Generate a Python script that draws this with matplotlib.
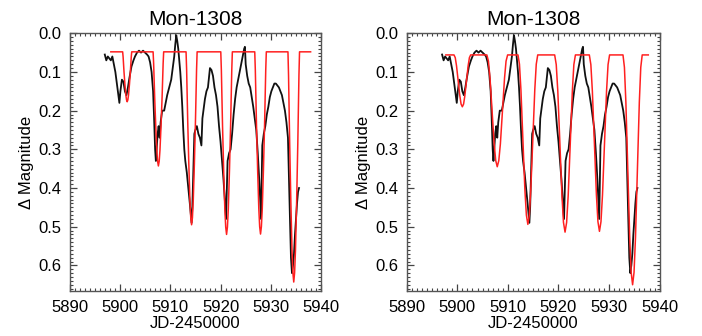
import matplotlib
matplotlib.use("Agg")
import matplotlib.pyplot as plt
from matplotlib.ticker import MultipleLocator

plt.rcParams['font.family'] = ['Liberation Sans', 'DejaVu Sans']

title = "Mon-1308"
xlabel = "JD-2450000"
ylabel = "\u0394 Magnitude"
xticks = [5890, 5900, 5910, 5920, 5930, 5940]
yticks = [0.0, 0.1, 0.2, 0.3, 0.4, 0.5, 0.6]

# observed light curve (traced band centre)
obs_jd = [5897.0, 5897.3, 5897.6, 5897.9, 5898.2, 5898.5, 5898.8, 5899.1, 5899.4, 5899.7,
          5899.9, 5900.1, 5900.4, 5900.7, 5901.0, 5901.3, 5901.6, 5901.9, 5902.3, 5902.7,
          5903.0, 5903.4, 5903.8, 5904.2, 5904.6, 5905.0, 5905.4, 5905.7, 5906.0, 5906.3,
          5906.6, 5906.8, 5907.0, 5907.15, 5907.3, 5907.5, 5907.7, 5907.9, 5908.1, 5908.4,
          5908.8, 5909.1, 5909.4, 5909.8, 5910.2, 5910.5, 5910.8, 5911.0, 5911.2, 5911.4,
          5911.6, 5911.8, 5912.0, 5912.2, 5912.4, 5912.6, 5912.8, 5913.0, 5913.3, 5913.6,
          5913.9, 5914.1, 5914.25, 5914.4, 5914.6, 5914.8, 5915.0, 5915.3, 5915.6, 5915.9,
          5916.2, 5916.4, 5916.6, 5916.9, 5917.2, 5917.5, 5917.9, 5918.2, 5918.5, 5918.8,
          5919.1, 5919.4, 5919.7, 5920.0, 5920.3, 5920.6, 5920.9, 5921.1, 5921.4, 5921.7,
          5922.0, 5922.3, 5922.6, 5922.9, 5923.2, 5923.5, 5923.8, 5924.1, 5924.4, 5924.7,
          5924.85, 5925.0, 5925.3, 5925.6, 5925.9, 5926.2, 5926.5, 5926.8, 5927.1, 5927.4,
          5927.7, 5927.9, 5928.05, 5928.3, 5928.6, 5928.9, 5929.2, 5929.5, 5929.8, 5930.1,
          5930.4, 5930.7, 5931.0, 5931.3, 5931.6, 5931.9, 5932.2, 5932.5, 5932.8, 5933.1,
          5933.4, 5933.6, 5933.8, 5934.0, 5934.2, 5934.4, 5934.6, 5934.8, 5935.0, 5935.2,
          5935.4, 5935.6]
obs_mag = [0.055, 0.07, 0.06, 0.065, 0.07, 0.06, 0.08, 0.10, 0.13, 0.16,
           0.18, 0.15, 0.12, 0.125, 0.15, 0.16, 0.14, 0.115, 0.086, 0.07,
           0.06, 0.05, 0.045, 0.05, 0.045, 0.05, 0.055, 0.06, 0.075, 0.10,
           0.15, 0.22, 0.30, 0.33, 0.30, 0.26, 0.24, 0.27, 0.23, 0.20,
           0.20, 0.18, 0.16, 0.14, 0.12, 0.09, 0.06, 0.03, 0.005, 0.02,
           0.04, 0.07, 0.10, 0.14, 0.19, 0.25, 0.30, 0.33, 0.36, 0.40,
           0.44, 0.47, 0.49, 0.45, 0.35, 0.26, 0.25, 0.24, 0.26, 0.27,
           0.29, 0.22, 0.20, 0.17, 0.15, 0.14, 0.09, 0.095, 0.11, 0.14,
           0.16, 0.19, 0.24, 0.28, 0.33, 0.38, 0.44, 0.48, 0.33, 0.31,
           0.30, 0.26, 0.21, 0.17, 0.14, 0.12, 0.10, 0.08, 0.06, 0.04,
           0.035, 0.08, 0.11, 0.13, 0.14, 0.165, 0.19, 0.22, 0.25, 0.31,
           0.38, 0.44, 0.48, 0.29, 0.26, 0.24, 0.21, 0.19, 0.165, 0.15,
           0.14, 0.13, 0.13, 0.135, 0.14, 0.15, 0.16, 0.18, 0.20, 0.23,
           0.27, 0.38, 0.48, 0.58, 0.62, 0.60, 0.57, 0.52, 0.48, 0.44,
           0.41, 0.40]

# left-panel model (narrow eclipses)
modelA_jd = [5898.2,
             5900.55, 5900.64, 5900.82, 5901.00, 5901.18, 5901.315, 5901.45,
             5901.585, 5901.72, 5901.90, 5902.08, 5902.26, 5902.35,
             5906.6, 5906.705, 5906.915, 5907.125, 5907.335, 5907.49, 5907.65,
             5907.81, 5907.965, 5908.175, 5908.385, 5908.595, 5908.7,
             5913.15, 5913.26, 5913.48, 5913.70, 5913.92, 5914.085, 5914.25,
             5914.415, 5914.58, 5914.80, 5915.02, 5915.24, 5915.35,
             5920.05, 5920.165, 5920.395, 5920.625, 5920.855, 5921.03, 5921.2,
             5921.37, 5921.545, 5921.775, 5922.005, 5922.235, 5922.35,
             5926.8, 5926.915, 5927.145, 5927.375, 5927.605, 5927.78, 5927.95,
             5928.12, 5928.295, 5928.525, 5928.755, 5928.985, 5929.1,
             5933.4, 5933.515, 5933.745, 5933.975, 5934.205, 5934.38, 5934.55,
             5934.72, 5934.895, 5935.125, 5935.355, 5935.585, 5935.7,
             5937.9]
modelA_mag = [0.048,
              0.048, 0.061, 0.100, 0.132, 0.159, 0.172, 0.177,
              0.172, 0.159, 0.132, 0.100, 0.061, 0.048,
              0.048, 0.078, 0.166, 0.240, 0.302, 0.331, 0.343,
              0.331, 0.302, 0.240, 0.166, 0.078, 0.048,
              0.048, 0.093, 0.227, 0.339, 0.432, 0.477, 0.495,
              0.477, 0.432, 0.339, 0.227, 0.093, 0.048,
              0.048, 0.095, 0.237, 0.355, 0.454, 0.501, 0.520,
              0.501, 0.454, 0.355, 0.237, 0.095, 0.048,
              0.048, 0.095, 0.236, 0.354, 0.453, 0.500, 0.519,
              0.500, 0.453, 0.354, 0.236, 0.095, 0.048,
              0.048, 0.108, 0.286, 0.435, 0.560, 0.619, 0.643,
              0.619, 0.560, 0.435, 0.286, 0.108, 0.048,
              0.048]

# right-panel model (wider eclipses)
modelB_jd = [5897.75,
             5899.35, 5899.60, 5899.85, 5900.18, 5900.51, 5900.75, 5901.0,
             5901.25, 5901.49, 5901.82, 5902.15, 5902.40, 5902.65,
             5905.85, 5906.16, 5906.47, 5906.88, 5907.29, 5907.60, 5907.9,
             5908.21, 5908.52, 5908.93, 5909.34, 5909.64, 5909.95,
             5912.0, 5912.29, 5912.58, 5912.97, 5913.36, 5913.66, 5913.95,
             5914.24, 5914.53, 5914.93, 5915.32, 5915.61, 5915.9,
             5919.25, 5919.56, 5919.87, 5920.28, 5920.69, 5920.99, 5921.3,
             5921.61, 5921.92, 5922.33, 5922.74, 5923.04, 5923.35,
             5926.1, 5926.4, 5926.7, 5927.1, 5927.5, 5927.8, 5928.1,
             5928.4, 5928.7, 5929.1, 5929.5, 5929.8, 5930.1,
             5932.75, 5933.035, 5933.32, 5933.70, 5934.08, 5934.365, 5934.65,
             5934.935, 5935.22, 5935.60, 5935.98, 5936.265, 5936.55,
             5937.75]
modelB_mag = [0.056,
              0.056, 0.063, 0.084, 0.123, 0.162, 0.183, 0.190,
              0.183, 0.162, 0.123, 0.084, 0.063, 0.056,
              0.056, 0.072, 0.116, 0.201, 0.286, 0.329, 0.345,
              0.329, 0.286, 0.201, 0.116, 0.072, 0.056,
              0.056, 0.080, 0.146, 0.275, 0.404, 0.470, 0.494,
              0.470, 0.404, 0.275, 0.146, 0.080, 0.056,
              0.056, 0.081, 0.150, 0.285, 0.420, 0.489, 0.514,
              0.489, 0.420, 0.285, 0.150, 0.081, 0.056,
              0.056, 0.081, 0.150, 0.284, 0.418, 0.487, 0.512,
              0.487, 0.418, 0.284, 0.150, 0.081, 0.056,
              0.056, 0.088, 0.178, 0.353, 0.528, 0.618, 0.650,
              0.618, 0.528, 0.353, 0.178, 0.088, 0.056,
              0.056]

fig = plt.figure(figsize=(7.02, 3.36), dpi=100)
ax1 = fig.add_axes([0.0991, 0.133, 0.3584, 0.768])
ax2 = fig.add_axes([0.5793, 0.133, 0.3604, 0.768])

for ax, mjd, mmag in [(ax1, modelA_jd, modelA_mag), (ax2, modelB_jd, modelB_mag)]:
    ax.plot(obs_jd, obs_mag, color='#111111', lw=1.3, solid_joinstyle='round', zorder=2)
    ax.plot(mjd, mmag, color='#ff2020', lw=1.1, zorder=3)
    ax.set_xlim(5890, 5940)
    ax.set_ylim(0.667, 0.0)
    ax.set_xticks(xticks)
    ax.set_yticks(yticks)
    ax.set_yticklabels([f"{v:.1f}" for v in yticks])
    ax.xaxis.set_minor_locator(MultipleLocator(1))
    ax.yaxis.set_minor_locator(MultipleLocator(0.01))
    ax.tick_params(which='both', direction='in', top=True, right=True,
                   colors='#444444', labelcolor='black', labelsize=12)
    ax.tick_params(which='major', length=5, width=0.9)
    ax.tick_params(which='minor', length=2.5, width=0.8)
    ax.tick_params(axis='x', pad=6)
    ax.tick_params(axis='y', pad=6)
    for s in ax.spines.values():
        s.set_color('#555555')
        s.set_linewidth(1.0)
    ax.set_title(title, fontsize=15, pad=6)
    ax.set_xlabel(xlabel, fontsize=12, labelpad=1)
    ax.set_ylabel(ylabel, fontsize=12, labelpad=3)

fig.savefig("out.png", dpi=100)
